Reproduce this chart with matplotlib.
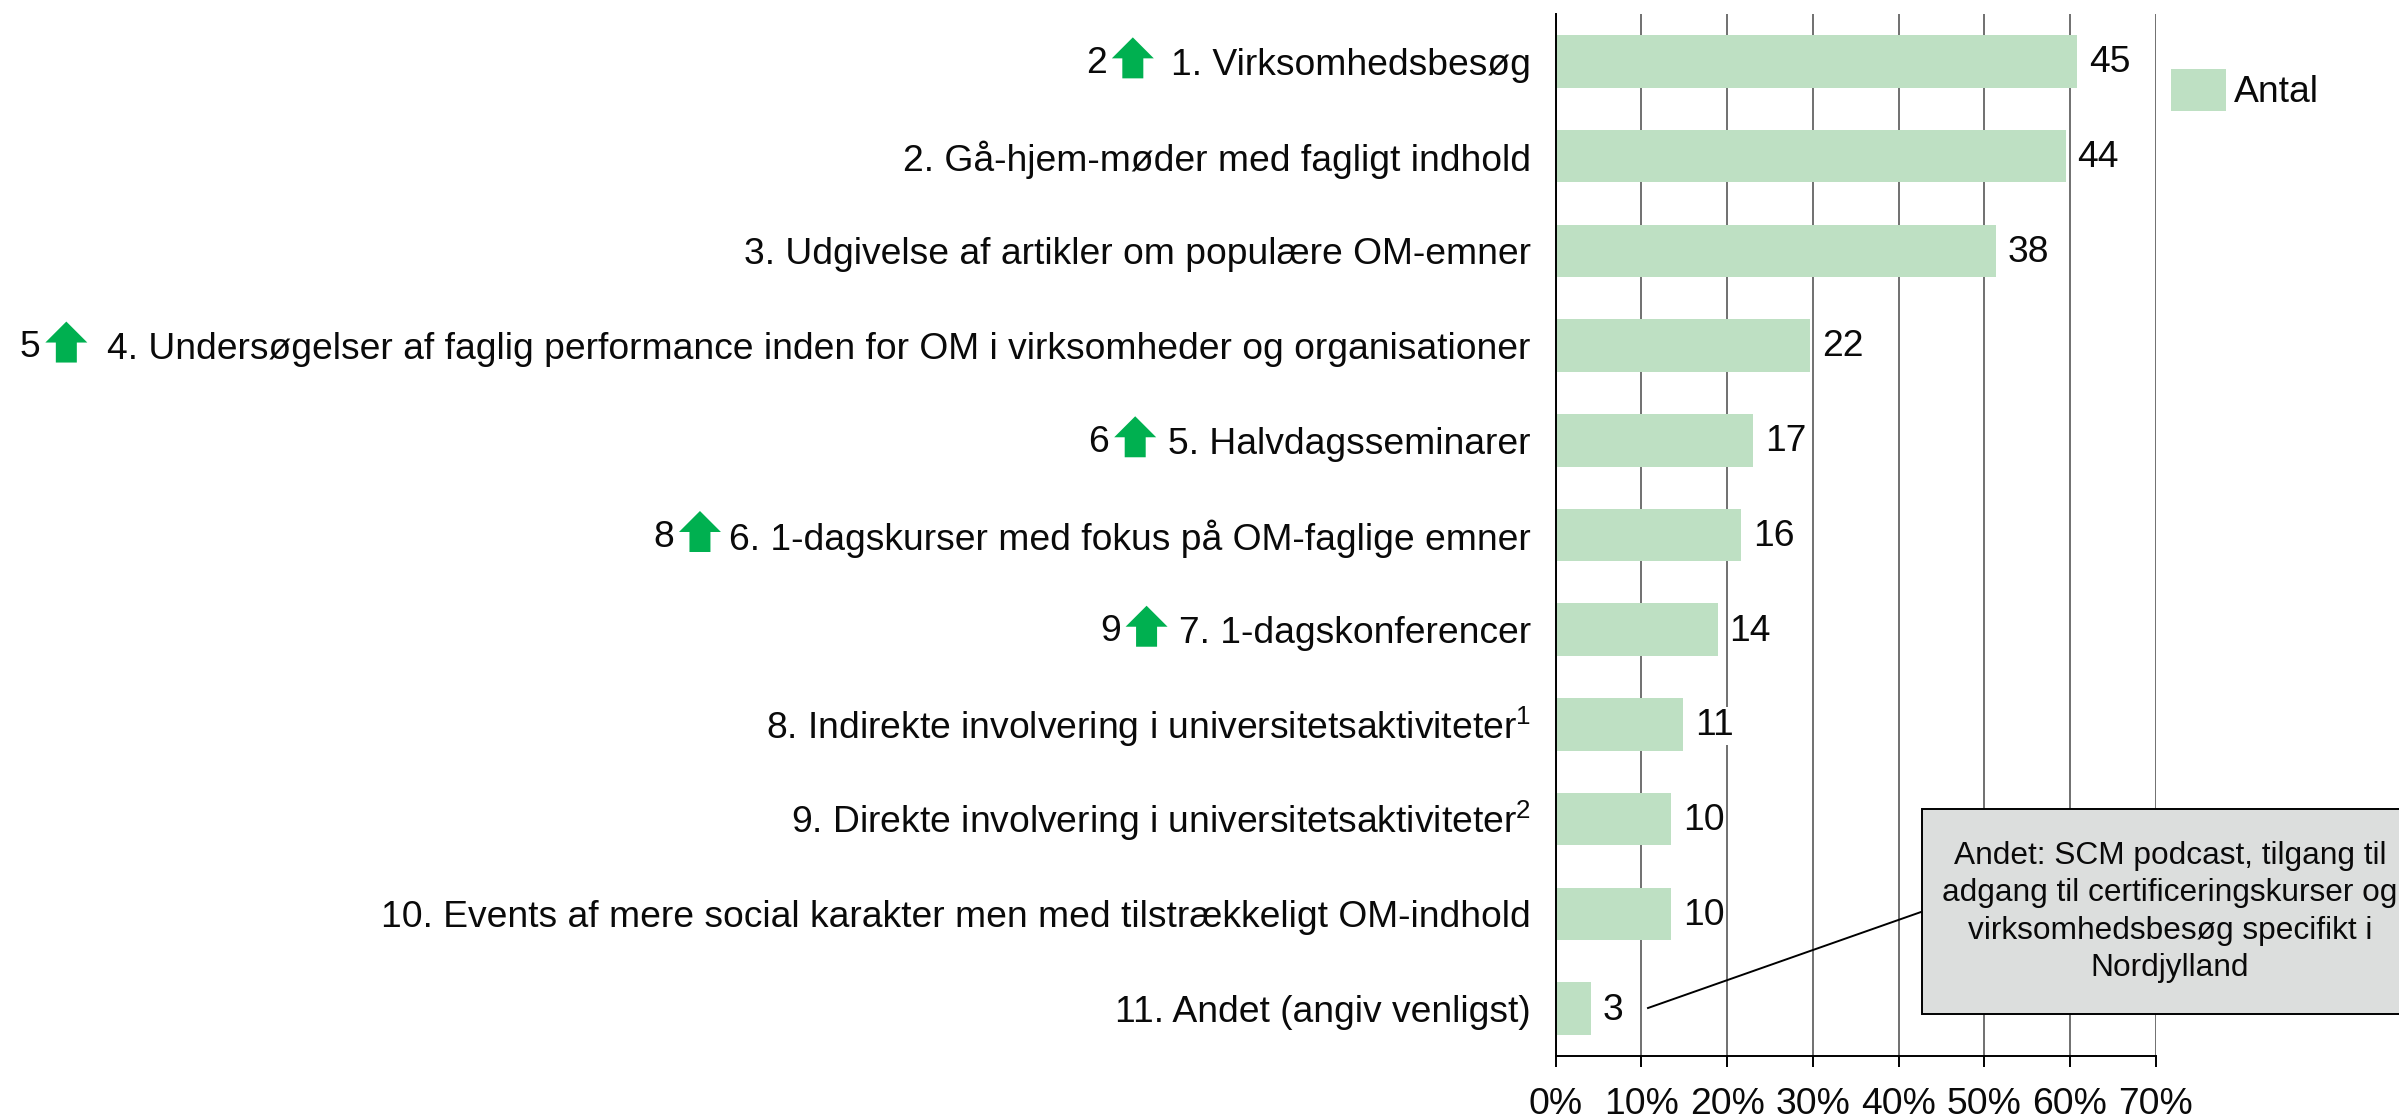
import matplotlib
matplotlib.use('Agg')
import matplotlib.pyplot as plt
from matplotlib.lines import Line2D
from matplotlib.patches import Rectangle, Polygon
from matplotlib.transforms import IdentityTransform, ScaledTranslation

plt.rcParams['font.family'] = ['Liberation Sans', 'DejaVu Sans']
plt.rcParams['mathtext.fontset'] = 'custom'
plt.rcParams['mathtext.rm'] = 'Liberation Sans'
plt.rcParams['mathtext.default'] = 'rm'

categories = ['1. Virksomhedsbesøg',
              '2. Gå-hjem-møder med fagligt indhold',
              '3. Udgivelse af artikler om populære OM-emner',
              '4. Undersøgelser af faglig performance inden for OM i virksomheder og organisationer',
              '5. Halvdagsseminarer',
              '6. 1-dagskurser med fokus på OM-faglige emner',
              '7. 1-dagskonferencer',
              '8. Indirekte involvering i universitetsaktiviteter$^{1}$',
              '9. Direkte involvering i universitetsaktiviteter$^{2}$',
              '10. Events af mere social karakter men med tilstrækkeligt OM-indhold',
              '11. Andet (angiv venligst)']
shares = [60.8, 59.5, 51.4, 29.7, 23.0, 21.6, 18.9, 14.9, 13.5, 13.5, 4.1]
counts = [45, 44, 38, 22, 17, 16, 14, 11, 10, 10, 3]
# rank last time, only for the items that moved up
prev_rank = [2, None, None, 5, 6, 8, 9, None, None, None, None]
xticks = [0, 10, 20, 30, 40, 50, 60, 70]

callout = ('Andet: SCM podcast, tilgang til\n'
           'adgang til certificeringskurser og\n'
           'virksomhedsbesøg specifikt i\n'
           'Nordjylland')

W, H = 2399, 1117
FS = 26.8
GREEN = '#BEE0C3'
ARROW = '#00B050'
INK = '#0A0A0A'
# the arrows were placed by hand in the original, not quite the same gap each row
arrow_nudge = {0: 3, 4: 8, 5: 12, 6: 9}


def fx(x):
    return x / W


def fy(y):
    return 1 - y / H


fig = plt.figure(figsize=(W / 100, H / 100), dpi=100)
ax = fig.add_axes([fx(1555.7), fy(1056), (2155.7 - 1555.7) / W, (1056 - 14) / H])

y = list(range(len(categories)))
ax.barh(y, shares, height=0.555, color=GREEN, zorder=2, label='Antal')
ax.set_xlim(0, 70)
ax.set_ylim(len(categories) - 0.5, -0.5)

ax.set_xticks(xticks)
ax.set_xticklabels([f'{t}%' for t in xticks], fontsize=FS, color=INK)
ax.set_yticks(y)
ax.set_yticklabels(categories, fontsize=FS, color=INK)
ax.tick_params(axis='y', length=0, pad=18)
ax.tick_params(axis='x', length=8, width=1.4, pad=14)
ax.grid(axis='x', color='#707070', lw=1.4, zorder=1)
ax.set_axisbelow(True)
for s in ['top', 'right']:
    ax.spines[s].set_visible(False)
for s in ['left', 'bottom']:
    ax.spines[s].set_linewidth(1.4)

# the superscript pushes these two labels down a bit
for lab in ax.get_yticklabels():
    if '$' in lab.get_text():
        lab.set_transform(lab.get_transform() + ScaledTranslation(0, 3 / 100, fig.dpi_scale_trans))

for i in y:
    ax.annotate(str(counts[i]), (shares[i], i), xytext=(8.5, -1), textcoords='offset points',
                ha='left', va='center', fontsize=FS, color=INK, zorder=3,
                bbox=dict(fc='white', ec='none', pad=1))

fig.legend(loc='upper left', bbox_to_anchor=(fx(2171), fy(69)), frameon=False, fontsize=FS,
           handlelength=1.48, handleheight=1.35, handletextpad=0.2, borderpad=0, borderaxespad=0,
           labelcolor=INK)

# leader line and grey note box, the box runs off the right edge
fig.add_artist(Line2D([fx(1648), fx(1921)], [fy(1008), fy(912)], color='black', lw=1.4))
fig.add_artist(Rectangle((fx(1921.7), fy(1014)), fx(520), (1014 - 808.5) / H, facecolor='#DCDEDD',
                         edgecolor='black', lw=1.4, transform=fig.transFigure))
fig.text(fx(2170), fy(912), callout, ha='center', va='center', fontsize=22.8, color=INK,
         linespacing=1.33)

# green arrows sit just left of the labels they belong to
fig.canvas.draw()
renderer = fig.canvas.get_renderer()
labels = ax.get_yticklabels()
for i in y:
    if prev_rank[i] is None:
        continue
    box = labels[i].get_window_extent(renderer)
    row = ax.transData.transform((0, i))[1]
    cx = box.x0 - 41 + arrow_nudge.get(i, 0)
    cy = row + 3
    pts = [(cx - 10.5, cy - 20), (cx + 10.5, cy - 20), (cx + 10.5, cy), (cx + 21, cy),
           (cx, cy + 21), (cx - 21, cy), (cx - 10.5, cy)]
    fig.add_artist(Polygon(pts, closed=True, facecolor=ARROW, edgecolor='none',
                           transform=IdentityTransform()))
    fig.text((cx - 26) / W, (row - 2) / H, str(prev_rank[i]), ha='right',
             va='center', fontsize=FS, color=INK)

fig.savefig('out.png', dpi=100)
